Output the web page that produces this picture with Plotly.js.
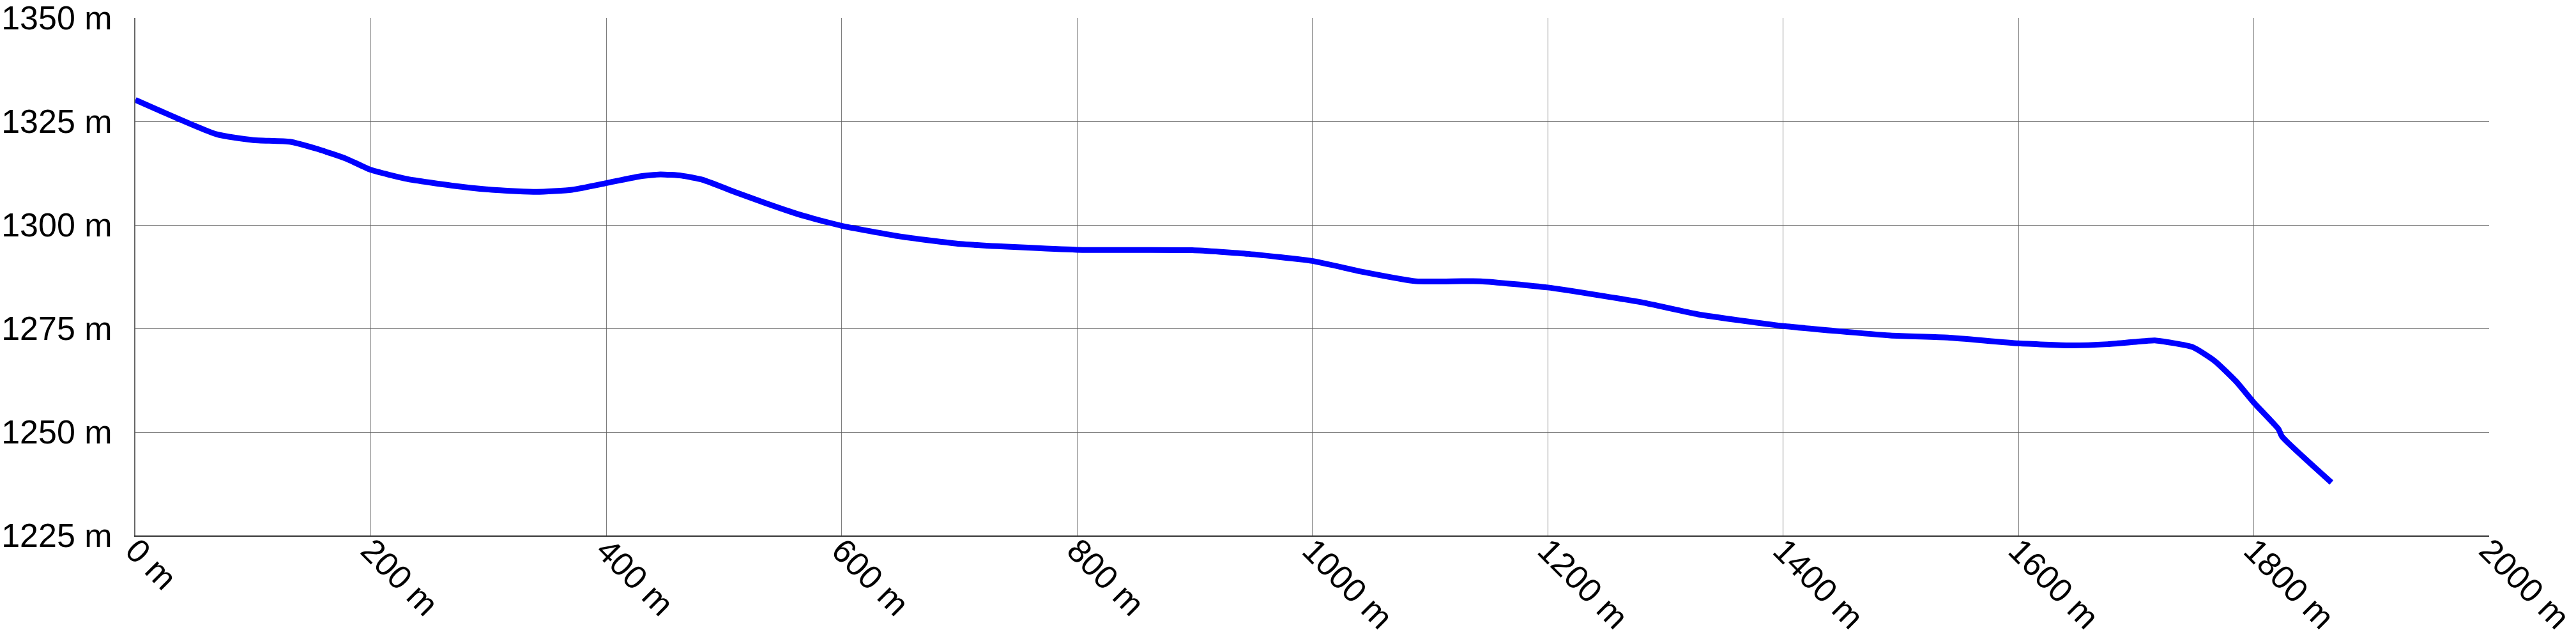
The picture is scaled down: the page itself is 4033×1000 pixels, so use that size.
<!DOCTYPE html>
<html>
<head>
<meta charset="utf-8">
<script src="https://cdn.plot.ly/plotly-3.0.1.min.js"></script>
<style>
html,body{margin:0;padding:0;background:#fff;}
#chart{width:4033px;height:1000px;}
</style>
</head>
<body>
<div id="chart"></div>
<script>
// Distance along the route (m)
const distance = [0, 69, 100, 131, 154, 179, 200, 231, 269, 307, 341, 371, 400, 428, 446, 464, 482, 509, 536, 563, 590, 600, 650, 701, 800, 898, 946, 1000, 1044, 1088, 1143, 1200, 1280, 1328, 1400, 1491, 1540, 1600, 1644, 1676, 1709, 1716, 1748, 1767, 1785, 1800, 1821, 1824, 1866];
// Elevation (m)
const elevation = [1330.2, 1321.9, 1320.5, 1320.1, 1318.4, 1316.0, 1313.3, 1311.1, 1309.5, 1308.4, 1308.0, 1308.5, 1310.1, 1311.7, 1312.2, 1311.9, 1310.9, 1308.0, 1305.2, 1302.6, 1300.5, 1299.8, 1297.2, 1295.4, 1294.0, 1293.9, 1293.0, 1291.3, 1288.6, 1286.4, 1286.4, 1284.9, 1281.3, 1278.4, 1275.6, 1273.3, 1272.8, 1271.4, 1270.9, 1271.2, 1272.0, 1272.1, 1270.5, 1267.1, 1262.2, 1257.1, 1250.7, 1248.9, 1237.8];
const xTicks = [0, 200, 400, 600, 800, 1000, 1200, 1400, 1600, 1800, 2000];
const yTicks = [1225, 1250, 1275, 1300, 1325, 1350];

const trace = {
  x: distance,
  y: elevation,
  type: 'scatter',
  mode: 'lines',
  line: {color: '#0000ff', width: 9, shape: 'spline', smoothing: 0.5},
  hoverinfo: 'skip'
};

const layout = {
  width: 4033,
  height: 1000,
  margin: {l: 212, r: 136, t: 28, b: 162, pad: 0},
  paper_bgcolor: '#fff',
  plot_bgcolor: '#fff',
  showlegend: false,
  xaxis: {
    range: [0, 2000],
    tickvals: xTicks,
    ticktext: xTicks.map(v => v + ' m'),
    tickangle: 45,
    tickfont: {family: 'Liberation Sans, Arial, sans-serif', size: 52, color: '#000'},
    ticks: 'outside',
    ticklen: 4,
    tickcolor: 'rgba(0,0,0,0)',
    ticklabelstandoff: -34,
    ticklabeloverflow: 'allow',
    showgrid: true,
    gridcolor: '#7d7d7d',
    gridwidth: 1,
    showline: true,
    linecolor: '#333',
    linewidth: 2,
    zeroline: false,
    automargin: false,
    fixedrange: true
  },
  yaxis: {
    range: [1225, 1350],
    tickvals: yTicks,
    ticktext: yTicks.map(v => v + ' m'),
    tickfont: {family: 'Liberation Sans, Arial, sans-serif', size: 52, color: '#000'},
    ticks: 'outside',
    ticklen: 24,
    tickcolor: 'rgba(0,0,0,0)',
    ticklabeloverflow: 'allow',
    showgrid: true,
    gridcolor: '#5e5e5e',
    gridwidth: 1,
    showline: true,
    linecolor: '#666',
    linewidth: 2,
    zeroline: false,
    automargin: false,
    fixedrange: true
  }
};

Plotly.newPlot('chart', [trace], layout, {staticPlot: true, displayModeBar: false});
</script>
</body>
</html>
